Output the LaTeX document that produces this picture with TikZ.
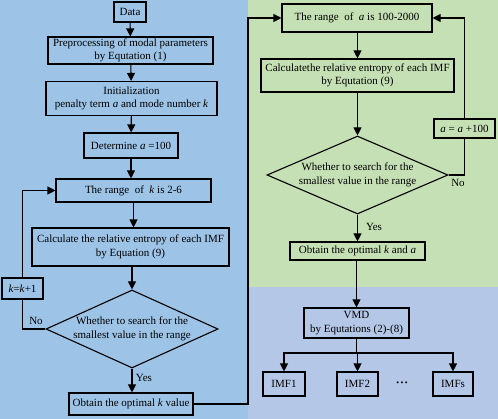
\documentclass[tikz,border=0pt]{standalone}
\usepackage{fontspec}
\setmainfont{Liberation Serif}
\usetikzlibrary{arrows.meta,shapes.geometric}
\definecolor{pblue}{HTML}{9DC3E6}
\definecolor{pgreen}{HTML}{C5E0B4}
\definecolor{plav}{HTML}{B4C7E7}
\begin{document}
\begin{tikzpicture}[x=1pt,y=-1pt,
  box/.style={draw, line width=1.1pt, align=center, inner sep=1pt,
    font=\fontsize{11}{13.5}\selectfont},
  dia/.style={draw, line width=1.1pt, diamond, inner sep=0pt},
  txt/.style={align=center, font=\fontsize{11}{13.5}\selectfont, inner sep=0pt},
  conn/.style={line width=1.1pt},
  arr/.style={line width=1.1pt, -{Triangle[length=8pt,width=8pt]}}
]
\useasboundingbox (0,0) rectangle (498,419);
\fill[pblue] (0,0) rectangle (248,419);
\fill[pgreen] (248,0) rectangle (498,287);
\fill[plav] (248,287) rectangle (498,419);

% left column
\node[box, minimum width=32pt, minimum height=20pt] (data) at (130,12) {Data};
\node[box, minimum width=165pt, minimum height=27pt] (pre) at (130.5,50.5) {Preprocessing of modal parameters\\by Equtation (1)};
\node[box, minimum width=171pt, minimum height=34pt] (init) at (131.5,98.5) {Initialization\\penalty term \textit{a} and mode number \textit{k}};
\node[box, minimum width=94pt, minimum height=25pt] (det) at (131,145.5) {Determine \textit{a} =100};
\node[box, minimum width=155pt, minimum height=23pt] (rangek) at (133.5,190.5) {The range\ \ of\ \ \textit{k} is 2-6};
\node[box, minimum width=197pt, minimum height=38pt] (calck) at (130.5,247) {Calculate the relative entropy of each IMF\\by Equation (9)};
\node[dia, minimum width=172pt, minimum height=78pt] (d1) at (132,329) {};
\node[txt] at (d1) {Whether to search for the\\smallest value in the range};
\node[box, minimum width=41pt, minimum height=21pt] (kk) at (22.5,288.5) {\textit{k}=\textit{k}+1};
\node[box, minimum width=124pt, minimum height=22pt] (optk) at (131,404) {Obtain the optimal \textit{k} value};
\node[txt] (yes1) at (144,378) {Yes};
\node[txt] (no1) at (36,321) {No};

% right column
\node[box, minimum width=150pt, minimum height=28pt] (rangea) at (357,18) {The range\ \ of\ \ \textit{a} is 100-2000};
\node[box, minimum width=193pt, minimum height=33pt] (calca) at (357.5,75.5) {Calculatethe relative entropy of each IMF\\by Equtation (9)};
\node[box, minimum width=61pt, minimum height=19pt] (aa) at (464.5,128.5) {\textit{a} = \textit{a} +100};
\node[dia, minimum width=181pt, minimum height=78pt] (d2) at (357.5,175) {};
\node[txt] at (d2) {Whether to search for the\\smallest value in the range};
\node[box, minimum width=135pt, minimum height=18pt] (optka) at (357.5,251) {Obtain the optimal \textit{k} and \textit{a}};
\node[txt] (yes2) at (374,227) {Yes};
\node[txt] (no2) at (458,183) {No};
\node[box, minimum width=105pt, minimum height=30pt] (vmd) at (356.5,323) {VMD\\by Equtations (2)-(8)};
\node[box, minimum width=42pt, minimum height=24pt] (imf1) at (284,384) {IMF1};
\node[box, minimum width=41pt, minimum height=24pt] (imf2) at (357.5,384) {IMF2};
\node[box, minimum width=40pt, minimum height=24pt] (imfs) at (453,384) {IMFs};
\node[txt, font=\fontsize{8}{9}\selectfont] (dots) at (402,384) {\textbullet\hspace{1.5pt}\textbullet\hspace{1.5pt}\textbullet};

\coordinate (cx) at (248,0);
\coordinate (br) at (356.5,353);

% left connectors
\draw[arr] (data) -- (pre);
\draw[arr] (pre) -- (init);
\draw[arr] (init) -- (det);
\draw[arr] (det.south) -- (det.south |- rangek.north);
\draw[arr] (rangek.south) -- (rangek.south |- calck.north);
\draw[arr] (calck.south -| d1.north) -- (d1.north);
\draw[arr] (d1.south) -- (d1.south |- optk.north);
\draw[conn] (d1.west) -- (d1.west -| kk.south) -- (kk.south);
\draw[arr] (kk.north) |- (rangek.west);
\draw[arr] (optk.east) -- (optk.east -| cx) -- (cx |- rangea.west) -- (rangea.west);

% right connectors
\draw[arr] (rangea.south -| calca.north) -- (calca.north);
\draw[arr] (calca.south) -- (d2.north);
\draw[arr] (d2.south) -- (optka.north);
\draw[conn] (d2.east) -- (d2.east -| aa.south) -- (aa.south);
\draw[arr] (aa.north) |- (rangea.east);
\draw[arr] (optka.south -| vmd.north) -- (vmd.north);
\draw[conn] (vmd.south) -- (br);
\draw[arr] (br) -- (br -| imf1.north) -- (imf1.north);
\draw[arr] (br) -- (br -| imfs.north) -- (imfs.north);
\draw[arr] (br) -- (br -| imf2.north) -- (imf2.north);
\end{tikzpicture}
\end{document}
